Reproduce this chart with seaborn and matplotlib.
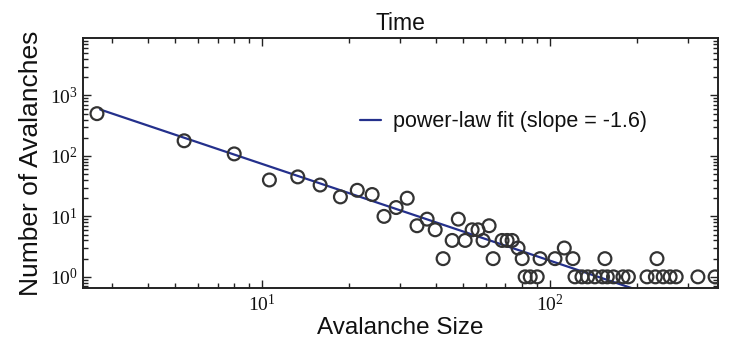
import numpy as np
import pandas as pd
import seaborn as sns
import matplotlib
matplotlib.use("Agg")
import matplotlib.pyplot as plt
from matplotlib.ticker import LogLocator, NullFormatter

# Avalanche size / count pairs
sizes = [2.67, 5.36, 8.0, 10.6, 13.3, 15.9, 18.7, 21.4, 24.1, 26.5, 29.2, 31.9,
         34.5, 37.4, 39.9, 42.5, 45.7, 48.0, 50.7, 53.6, 56.2, 58.5, 61.4, 63.4,
         68.1, 70.9, 73.8, 77.4, 80.0, 81.9, 85.3, 90.2, 92.3, 104, 112, 120,
         122, 129, 135, 143, 152, 158, 166, 179, 187, 155, 217, 232, 247, 261,
         274, 235, 326, 374]
counts = [500, 178, 108, 40, 45, 33, 21, 27, 23, 10, 14, 20,
          7, 9, 6, 2, 4, 9, 4, 6, 6, 4, 7, 2,
          4, 4, 4, 3, 2, 1, 1, 1, 2, 2, 3, 2,
          1, 1, 1, 1, 1, 1, 1, 1, 1, 2, 1, 1, 1, 1,
          1, 2, 1, 1]

# power-law fit endpoints (slope = -1.6)
fit_x = [2.74, 200]
fit_y = [585, 0.61]

title = "Time"
x_label = "Avalanche Size"
y_label = "Number of Avalanches"
fit_label = "power-law fit (slope = -1.6)"

sns.set_style("ticks")
plt.rcParams["font.family"] = ["Liberation Sans", "DejaVu Sans"]
plt.rcParams["text.color"] = "#111111"
plt.rcParams["axes.labelcolor"] = "#111111"

fig = plt.figure(figsize=(7.29, 3.59), dpi=100)
ax = fig.add_axes([0.114, 0.198, 0.871, 0.696])

pts = pd.DataFrame({"size": sizes, "count": counts})
fit = pd.DataFrame({"size": fit_x, "count": fit_y})

sns.lineplot(data=fit, x="size", y="count", ax=ax, color="#24308c",
             linewidth=1.6, label=fit_label, zorder=2)
sns.scatterplot(data=pts, x="size", y="count", ax=ax, s=85,
                facecolor="none", edgecolor="#333333", linewidth=1.6,
                zorder=3, legend=False)

ax.set_xscale("log")
ax.set_yscale("log")
ax.set_xlim(2.39, 383)
ax.set_ylim(0.656, 8900)

for a in (ax.xaxis, ax.yaxis):
    a.set_major_locator(LogLocator(base=10, numticks=10))
    a.set_minor_locator(LogLocator(base=10, subs=np.arange(2, 10), numticks=20))
    a.set_minor_formatter(NullFormatter())

ax.tick_params(which="both", direction="in", top=True, right=True,
               color="#222222", width=1.0)
ax.tick_params(which="major", length=6, labelsize=14, labelcolor="#111111",
               labelfontfamily="Liberation Serif", pad=4)
ax.tick_params(which="minor", length=3.5)
for sp in ax.spines.values():
    sp.set_linewidth(1.4)
    sp.set_color("#222222")

ax.set_title(title, fontsize=16.5, pad=6)
ax.set_xlabel(x_label, fontsize=17.5, labelpad=2)
ax.set_ylabel(y_label, fontsize=19, labelpad=5)

ax.legend(loc="center left", bbox_to_anchor=(0.405, 0.665), frameon=False,
          fontsize=15.5, handlelength=1.0, handletextpad=0.55)

fig.savefig("out.png", dpi=100)
